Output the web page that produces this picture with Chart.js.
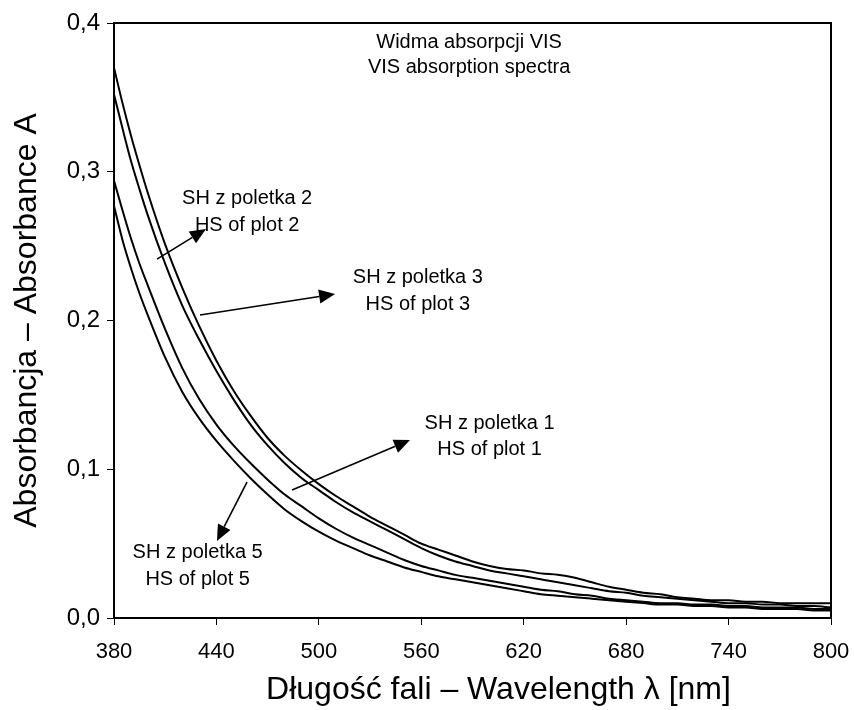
<!DOCTYPE html>
<html>
<head>
  <meta http-equiv="content-type" content="text/html; charset=utf-8"/>
  <script src="https://cdn.jsdelivr.net/npm/chart.js@4.4.0/dist/chart.umd.min.js"></script>
  <style>
    body { margin: 0; background: #fff; }
    #wrap { width: 854px; height: 710px; }
  </style>
</head>
<body>
<div id="wrap"><canvas id="chart" width="854" height="710"></canvas></div>

<script>
    // wavelength grid (nm)
    const wavelengths = [380, 385, 390, 395, 400, 410, 420, 430, 440, 450, 460, 470, 480, 490, 500,
        510, 520, 530, 540, 550, 560, 570, 580, 590, 600, 610, 620, 630, 640, 650,
        660, 670, 680, 690, 700, 710, 720, 730, 740, 750, 760, 770, 780, 790, 800];

    // absorbance
    const absPlot3 = [0.370, 0.346, 0.324, 0.304, 0.285, 0.251, 0.222, 0.196, 0.173, 0.153, 0.136, 0.121, 0.109, 0.099, 0.090,
        0.082, 0.075, 0.068, 0.062, 0.056, 0.050, 0.046, 0.042, 0.038, 0.035, 0.033, 0.032, 0.030, 0.029, 0.027,
        0.024, 0.021, 0.019, 0.017, 0.016, 0.014, 0.013, 0.012, 0.012, 0.011, 0.011, 0.010, 0.010, 0.010, 0.010];
    const absPlot2 = [0.352, 0.329, 0.307, 0.288, 0.270, 0.238, 0.210, 0.187, 0.166, 0.147, 0.130, 0.116, 0.104, 0.094, 0.086,
        0.078, 0.071, 0.065, 0.059, 0.053, 0.047, 0.042, 0.038, 0.035, 0.032, 0.030, 0.028, 0.026, 0.024, 0.022,
        0.020, 0.018, 0.017, 0.015, 0.014, 0.013, 0.012, 0.011, 0.010, 0.010, 0.009, 0.009, 0.008, 0.008, 0.007];
    const absPlot1 = [0.294, 0.274, 0.255, 0.238, 0.223, 0.194, 0.168, 0.147, 0.130, 0.116, 0.104, 0.093, 0.083, 0.075, 0.067,
        0.060, 0.054, 0.049, 0.044, 0.039, 0.035, 0.032, 0.029, 0.027, 0.025, 0.023, 0.021, 0.019, 0.018, 0.016,
        0.015, 0.013, 0.012, 0.011, 0.010, 0.010, 0.009, 0.009, 0.008, 0.008, 0.007, 0.007, 0.007, 0.006, 0.006];
    const absPlot5 = [0.277, 0.254, 0.235, 0.218, 0.203, 0.175, 0.152, 0.134, 0.119, 0.106, 0.094, 0.083, 0.073, 0.065, 0.058,
        0.052, 0.047, 0.042, 0.038, 0.034, 0.031, 0.028, 0.026, 0.024, 0.022, 0.020, 0.018, 0.016, 0.015, 0.014,
        0.013, 0.012, 0.011, 0.010, 0.009, 0.009, 0.008, 0.008, 0.007, 0.007, 0.006, 0.006, 0.006, 0.005, 0.005];

    const seriesNames = ['SH z poletka 3', 'SH z poletka 2', 'SH z poletka 1', 'SH z poletka 5'];
    const seriesValues = [absPlot3, absPlot2, absPlot1, absPlot5];

    const xTitle = 'Długość fali – Wavelength λ [nm]';
    const yTitle = 'Absorbancja – Absorbance A';

    // text notes and arrows, placed in data units (nm, absorbance)
    const notes = [
        {lines: ['Widma absorpcji VIS', 'VIS absorption spectra'], x: 588, y: [0.387, 0.370]},
        {lines: ['SH z poletka 2', 'HS of plot 2'], x: 458, y: [0.282, 0.264]},
        {lines: ['SH z poletka 3', 'HS of plot 3'], x: 558, y: [0.229, 0.211]},
        {lines: ['SH z poletka 1', 'HS of plot 1'], x: 600, y: [0.131, 0.113]},
        {lines: ['SH z poletka 5', 'HS of plot 5'], x: 429, y: [0.044, 0.026]}
    ];
    const arrows = [
        {from: [405.2, 0.2413], to: [433.9, 0.2615]},
        {from: [430.4, 0.2037], to: [509.5, 0.2178]},
        {from: [484.3, 0.0861], to: [553.4, 0.1197]},
        {from: [457.9, 0.0914], to: [440.3, 0.0518]}
    ];

    const FONT = "'Liberation Sans', Arial, sans-serif";

    const extras = {
        id: 'extras',
        afterDatasetsDraw(chart) {
            const ctx = chart.ctx;
            const xs = chart.scales.x, ys = chart.scales.y;
            const a = chart.chartArea;
            ctx.save();
            // frame
            ctx.strokeStyle = '#000';
            ctx.lineWidth = 2;
            ctx.strokeRect(a.left, a.top, a.right - a.left, a.bottom - a.top);

            // notes
            ctx.fillStyle = '#000';
            ctx.font = '20px ' + FONT;
            ctx.textAlign = 'center';
            ctx.textBaseline = 'middle';
            notes.forEach(n => {
                n.lines.forEach((t, i) => {
                    ctx.fillText(t, xs.getPixelForValue(n.x), ys.getPixelForValue(n.y[i]));
                });
            });

            // x axis title, sits a bit right of the plot centre in the original
            ctx.font = '32px ' + FONT;
            ctx.fillText(xTitle, (a.left + a.right) / 2 + 26, chart.height - 20);

            // arrows
            ctx.lineWidth = 1.6;
            arrows.forEach(ar => {
                const x0 = xs.getPixelForValue(ar.from[0]), y0 = ys.getPixelForValue(ar.from[1]);
                const x1 = xs.getPixelForValue(ar.to[0]), y1 = ys.getPixelForValue(ar.to[1]);
                const ang = Math.atan2(y1 - y0, x1 - x0);
                const len = 16, half = 7;
                const bx = x1 - len * Math.cos(ang), by = y1 - len * Math.sin(ang);
                ctx.beginPath();
                ctx.moveTo(x0, y0);
                ctx.lineTo(bx, by);
                ctx.stroke();
                ctx.beginPath();
                ctx.moveTo(x1, y1);
                ctx.lineTo(bx + half * Math.sin(ang), by - half * Math.cos(ang));
                ctx.lineTo(bx - half * Math.sin(ang), by + half * Math.cos(ang));
                ctx.closePath();
                ctx.fill();
            });
            ctx.restore();
        }
    };

    new Chart(document.getElementById('chart'), {
        type: 'line',
        data: {
            datasets: seriesValues.map((vals, i) => ({
                label: seriesNames[i],
                data: wavelengths.map((w, j) => ({x: w, y: vals[j]})),
                borderColor: '#000',
                borderWidth: 2,
                pointRadius: 0,
                fill: false,
                cubicInterpolationMode: 'monotone'
            }))
        },
        options: {
            responsive: false,
            animation: false,
            layout: {padding: {left: 0, top: 23, right: 23, bottom: 0}},
            plugins: {legend: {display: false}, tooltip: {enabled: false}},
            scales: {
                x: {
                    type: 'linear',
                    min: 380,
                    max: 800,
                    afterFit(scale) {
                        scale.height = 92;
                        scale.paddingLeft = 0;
                        scale.paddingRight = 0;
                    },
                    ticks: {stepSize: 60, color: '#000', font: {family: FONT, size: 22}, padding: 14},
                    grid: {drawOnChartArea: false, tickLength: 7, color: '#000'},
                    border: {color: '#000', width: 2}
                },
                y: {
                    min: 0,
                    max: 0.4,
                    afterFit(scale) {
                        scale.width = 114;
                        scale.paddingTop = 0;
                        scale.paddingBottom = 0;
                    },
                    ticks: {stepSize: 0.1, color: '#000', font: {family: FONT, size: 24}, padding: 7,
                        callback: v => v.toFixed(1).replace('.', ',')},
                    grid: {drawOnChartArea: false, tickLength: 7, color: '#000'},
                    border: {color: '#000', width: 2},
                    title: {display: true, text: yTitle, color: '#000',
                        font: {family: FONT, size: 32}, padding: {top: 8, bottom: 0}}
                }
            }
        },
        plugins: [extras]
    });
</script>
</body>
</html>
